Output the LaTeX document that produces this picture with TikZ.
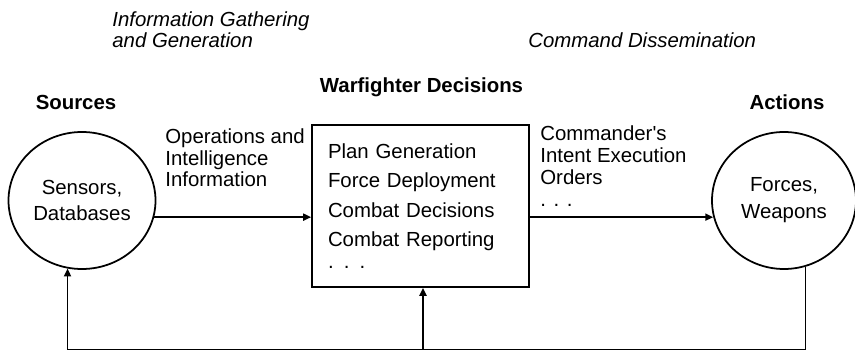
\documentclass[tikz,border=0pt]{standalone}
\usepackage{fontspec}
\setmainfont{Liberation Sans}
\usetikzlibrary{arrows.meta, shapes.geometric}

\begin{document}
\begin{tikzpicture}[
	every node/.style = {font = \fontsize{11.6}{12.5}\selectfont, inner sep = 0pt},
	heading/.style = {font = \fontsize{11.6}{12.5}\selectfont\bfseries, anchor = base},
	phase/.style = {font = \fontsize{11.6}{12.5}\selectfont\itshape, align = left, anchor = base west},
	flow/.style = {align = left, anchor = base west},
	blob/.style = {draw, ellipse, align = center, line width = 1pt, minimum height = 2.74cm},
	link/.style = {line width = 1pt, -{Triangle[length = 4.5pt, width = 4pt]}}
]
	\useasboundingbox (0, 0) rectangle (17.1, 7.02);

	\coordinate (base) at (8.46, 0.03);

	\node [blob, minimum width = 2.94cm] (src) at (1.64, 3.01) {Sensors,\\[2.8pt]Databases};
	\node [blob, minimum width = 2.88cm] (act) at (15.68, 3.01) {Forces,\\[2.8pt]Weapons};
	\node [draw, line width = 1pt, align = left, text width = 3.70cm, inner xsep = 0.32cm, minimum height = 3.24cm] (dec) at (8.41, 2.90)
		{Plan Generation\\[4.25pt]Force Deployment\\[4.25pt]Combat Decisions\\[4.25pt]Combat Reporting\\. . .};

	% base anchor sits on the last line
	\node [phase] (gather) at (2.24, 6.06) {Information Gathering\\and Generation};
	\node [phase] (dissem) at (10.56, 6.06) {Command Dissemination};
	\node [heading] (dectitle) at (8.43, 5.16) {Warfighter Decisions};
	\node [heading] (srctitle) at (1.52, 4.82) {Sources};
	\node [heading] (acttitle) at (15.74, 4.82) {Actions};
	\node [flow] (intel) at (3.30, 3.28) {Operations and\\Intelligence\\Information};
	\node [flow] (orders) at (10.80, 2.89) {Commander\textquotesingle{}s\\Intent Execution\\Orders\\. . .};

	\draw [link] (src.-13) -- (src.-13 -| dec.west);
	\draw [link] (src.-13 -| dec.east) -- (src.-13 -| act.193);
	\draw [link] (base) -- (base |- dec.south);
	\draw [link] (act.-72) |- (base) -| (src.-102);
\end{tikzpicture}
\end{document}
